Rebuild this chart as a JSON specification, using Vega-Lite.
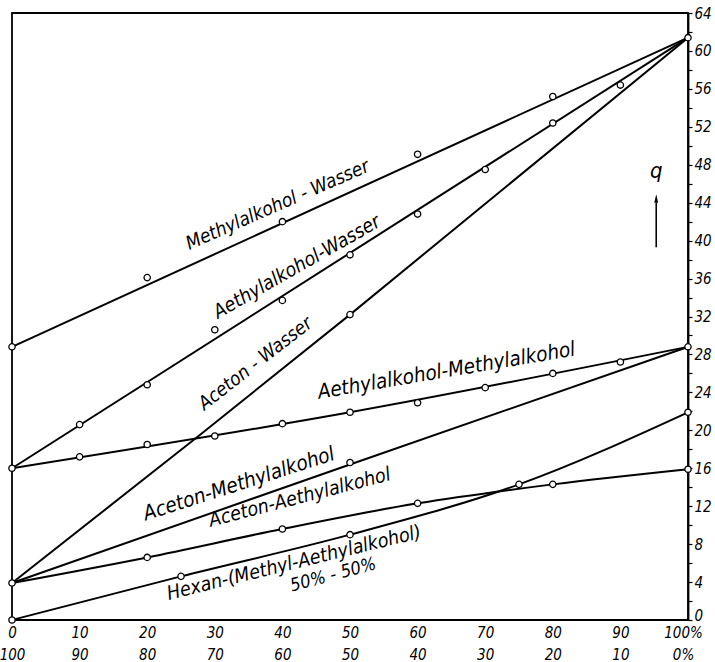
{
  "$schema": "https://vega.github.io/schema/vega-lite/v6.json",
  "width": 676,
  "height": 607,
  "autosize": {"type": "none"},
  "padding": {"left": 12, "top": 13, "right": 27, "bottom": 42},
  "background": "white",
  "config": {
    "view": {"stroke": "black", "strokeWidth": 1.8},
    "font": "DejaVu Sans"
  },
  "datasets": {
    "lines": [
      {"series": "Methylalkohol-Wasser", "x": 0, "y": 28.8},
      {"series": "Methylalkohol-Wasser", "x": 100, "y": 61.4},
      {"series": "Aethylalkohol-Wasser", "x": 0, "y": 16},
      {"series": "Aethylalkohol-Wasser", "x": 100, "y": 61.4},
      {"series": "Aceton-Wasser", "x": 0, "y": 3.9},
      {"series": "Aceton-Wasser", "x": 27.6, "y": 19.4},
      {"series": "Aceton-Wasser", "x": 50, "y": 32.2},
      {"series": "Aceton-Wasser", "x": 100, "y": 61.4},
      {"series": "Aethylalkohol-Methylalkohol", "x": 0, "y": 16},
      {"series": "Aethylalkohol-Methylalkohol", "x": 50, "y": 21.9},
      {"series": "Aethylalkohol-Methylalkohol", "x": 100, "y": 28.8},
      {"series": "Aceton-Methylalkohol", "x": 0, "y": 3.9},
      {"series": "Aceton-Methylalkohol", "x": 50, "y": 16.4},
      {"series": "Aceton-Methylalkohol", "x": 100, "y": 28.8},
      {"series": "Aceton-Aethylalkohol", "x": 0, "y": 3.9},
      {"series": "Aceton-Aethylalkohol", "x": 20, "y": 6.6},
      {"series": "Aceton-Aethylalkohol", "x": 40, "y": 9.6},
      {"series": "Aceton-Aethylalkohol", "x": 60, "y": 12.3},
      {"series": "Aceton-Aethylalkohol", "x": 80, "y": 14.3},
      {"series": "Aceton-Aethylalkohol", "x": 100, "y": 15.9},
      {"series": "Hexan", "x": 0, "y": 0},
      {"series": "Hexan", "x": 25, "y": 4.6},
      {"series": "Hexan", "x": 50, "y": 9.0},
      {"series": "Hexan", "x": 75, "y": 14.3},
      {"series": "Hexan", "x": 100, "y": 21.9}
    ],
    "points": [
      {"x": 0, "y": 28.8}, {"x": 20, "y": 36.1}, {"x": 40, "y": 42.0}, {"x": 60, "y": 49.1}, {"x": 80, "y": 55.2}, {"x": 100, "y": 61.4},
      {"x": 0, "y": 16}, {"x": 10, "y": 20.6}, {"x": 20, "y": 24.8}, {"x": 30, "y": 30.6}, {"x": 40, "y": 33.7}, {"x": 50, "y": 38.5}, {"x": 60, "y": 42.8}, {"x": 70, "y": 47.5}, {"x": 80, "y": 52.4}, {"x": 90, "y": 56.4},
      {"x": 0, "y": 3.9}, {"x": 50, "y": 32.2},
      {"x": 10, "y": 17.2}, {"x": 20, "y": 18.5}, {"x": 30, "y": 19.4}, {"x": 40, "y": 20.7}, {"x": 50, "y": 21.9}, {"x": 60, "y": 22.9}, {"x": 70, "y": 24.5}, {"x": 80, "y": 26.0}, {"x": 90, "y": 27.2}, {"x": 100, "y": 28.8},
      {"x": 50, "y": 16.6},
      {"x": 20, "y": 6.6}, {"x": 40, "y": 9.6}, {"x": 60, "y": 12.3}, {"x": 80, "y": 14.3}, {"x": 100, "y": 15.9},
      {"x": 0, "y": 0}, {"x": 25, "y": 4.6}, {"x": 50, "y": 9.0}, {"x": 75, "y": 14.3}, {"x": 100, "y": 21.9}
    ]
  },
  "encoding": {
    "x": {
      "field": "x", "type": "quantitative",
      "scale": {"domain": [0, 100], "nice": false, "zero": false},
      "axis": {
        "orient": "bottom", "title": null, "grid": false, "domain": false, "ticks": false,
        "values": [0, 10, 20, 30, 40, 50, 60, 70, 80, 90, 100],
        "labelExpr": "datum.value == 100 ? ['100%', '0%'] : [datum.label, '' + (100 - datum.value)]",
        "labelFont": "DejaVu Sans Condensed, DejaVu Sans", "labelFontStyle": "italic", "labelFontSize": 15,
        "labelOffset": {"condition": {"test": "datum.value == 100", "value": -5}, "value": 0},
        "labelColor": "black", "labelPadding": 5, "labelFlush": false, "labelLineHeight": 22, "labelOverlap": false
      }
    },
    "y": {
      "field": "y", "type": "quantitative",
      "scale": {"domain": [0, 64], "nice": false},
      "axis": {
        "orient": "right", "title": null, "grid": false,
        "values": [0, 2, 4, 6, 8, 10, 12, 14, 16, 18, 20, 22, 24, 26, 28, 30, 32, 34, 36, 38, 40, 42, 44, 46, 48, 50, 52, 54, 56, 58, 60, 62, 64],
        "labelExpr": "datum.value % 4 == 0 ? datum.label : ''",
        "labelFont": "DejaVu Sans Condensed, DejaVu Sans", "labelFontStyle": "italic", "labelFontSize": 15,
        "labelBaseline": {"condition": {"test": "datum.value == 0", "value": "alphabetic"}, "value": "middle"},
        "labelColor": "black", "labelPadding": 2, "labelFlush": false, "labelOverlap": false,
        "tickSize": 4, "tickColor": "black", "tickWidth": 1.2, "domainColor": "black", "domainWidth": 1.8
      }
    }
  },
  "layer": [
    {
      "data": {"name": "lines"},
      "mark": {"type": "line", "color": "black", "strokeWidth": 2, "interpolate": "monotone"},
      "encoding": {"detail": {"field": "series"}, "order": {"field": "x"}}
    },
    {
      "data": {"name": "points"},
      "mark": {"type": "point", "shape": "circle", "filled": true, "fill": "white", "stroke": "black", "strokeWidth": 1.3, "size": 40, "opacity": 1}
    },
    {
      "data": {"values": [{"x": 39.8, "y": 42.9, "label": "Methylalkohol - Wasser"}]},
      "mark": {"type": "text", "angle": -23.6, "align": "center", "baseline": "alphabetic", "dy": -3, "fontSize": 19, "fontStyle": "italic", "font": "DejaVu Sans Condensed, DejaVu Sans"},
      "encoding": {"text": {"field": "label"}}
    },
    {
      "data": {"values": [{"x": 42.8, "y": 36.4, "label": "Aethylalkohol-Wasser"}]},
      "mark": {"type": "text", "angle": -29.7, "align": "center", "baseline": "alphabetic", "dy": -3, "fontSize": 19.5, "fontStyle": "italic", "font": "DejaVu Sans Condensed, DejaVu Sans"},
      "encoding": {"text": {"field": "label"}}
    },
    {
      "data": {"values": [{"x": 36.8, "y": 26.3, "label": "Aceton - Wasser"}]},
      "mark": {"type": "text", "angle": -38, "align": "center", "baseline": "alphabetic", "dy": -3, "fontSize": 19, "fontStyle": "italic", "font": "DejaVu Sans Condensed, DejaVu Sans"},
      "encoding": {"text": {"field": "label"}}
    },
    {
      "data": {"values": [{"x": 64.5, "y": 25.3, "label": "Aethylalkohol-Methylalkohol"}]},
      "mark": {"type": "text", "angle": -9.6, "align": "center", "baseline": "alphabetic", "dy": -3, "fontSize": 20.5, "fontStyle": "italic", "font": "DejaVu Sans Condensed, DejaVu Sans"},
      "encoding": {"text": {"field": "label"}}
    },
    {
      "data": {"values": [{"x": 34.0, "y": 13.4, "label": "Aceton-Methylalkohol"}]},
      "mark": {"type": "text", "angle": -17.8, "align": "center", "baseline": "alphabetic", "dy": -3, "fontSize": 20.5, "fontStyle": "italic", "font": "DejaVu Sans Condensed, DejaVu Sans"},
      "encoding": {"text": {"field": "label"}}
    },
    {
      "data": {"values": [{"x": 42.9, "y": 12.0, "label": "Aceton-Aethylalkohol"}]},
      "mark": {"type": "text", "angle": -14.5, "align": "center", "baseline": "alphabetic", "dy": -3, "fontSize": 19.5, "fontStyle": "italic", "font": "DejaVu Sans Condensed, DejaVu Sans"},
      "encoding": {"text": {"field": "label"}}
    },
    {
      "data": {"values": [{"x": 42.0, "y": 5.2, "label": "Hexan-(Methyl-Aethylalkohol)"}]},
      "mark": {"type": "text", "angle": -13.8, "align": "center", "baseline": "alphabetic", "dy": -2, "fontSize": 19.5, "fontStyle": "italic", "font": "DejaVu Sans Condensed, DejaVu Sans"},
      "encoding": {"text": {"field": "label"}}
    },
    {
      "data": {"values": [{"x": 47.8, "y": 4.0, "label": "50% - 50%"}]},
      "mark": {"type": "text", "angle": -15, "align": "center", "baseline": "alphabetic", "dy": -2, "fontSize": 18, "fontStyle": "italic", "font": "DejaVu Sans Condensed, DejaVu Sans"},
      "encoding": {"text": {"field": "label"}}
    },
    {
      "data": {"values": [{"x": 95.3, "y": 47.3, "label": "q"}]},
      "mark": {"type": "text", "align": "center", "baseline": "middle", "fontSize": 22, "fontStyle": "italic", "font": "DejaVu Sans Condensed, DejaVu Sans"},
      "encoding": {"text": {"field": "label"}}
    },
    {
      "data": {"values": [{"x": 95.3, "y": 39.3, "y2": 44.0}]},
      "mark": {"type": "rule", "color": "black", "strokeWidth": 1.6},
      "encoding": {"y2": {"field": "y2"}}
    },
    {
      "data": {"values": [{"x": 95.3, "y": 44.4}]},
      "mark": {"type": "point", "shape": "M-0.5,1L0,-1.2L0.5,1Z", "filled": true, "color": "black", "size": 60, "opacity": 1}
    }
  ]
}
